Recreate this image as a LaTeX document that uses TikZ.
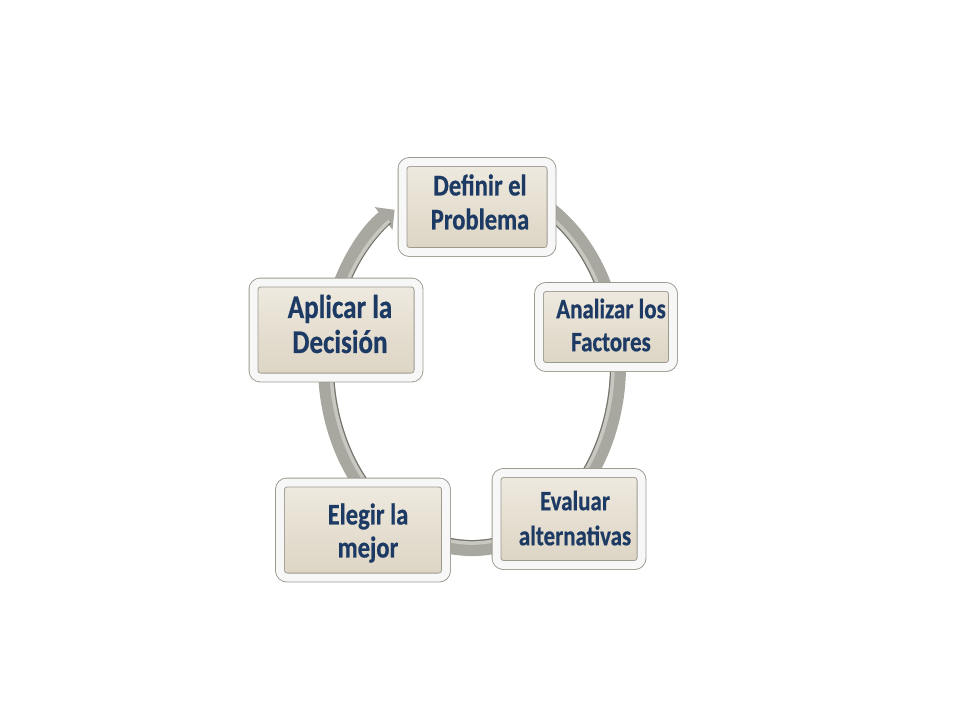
\documentclass[tikz,border=0pt]{standalone}
\usepackage{fontspec}
\setmainfont{Carlito}
\newfontfamily\boxfont[FakeStretch=0.82,FakeBold=0.6,BoldFont={Carlito Bold}]{Carlito}
\usetikzlibrary{arrows.meta,shadows}
\definecolor{txt}{HTML}{1C3A63}
\definecolor{ringc}{HTML}{A8A8A0}
\definecolor{ringl}{HTML}{C8C8C0}
\definecolor{ringd}{HTML}{74746C}
\definecolor{beigeT}{HTML}{EFEAE0}
\definecolor{beigeB}{HTML}{DCD4C3}
\definecolor{frameD}{HTML}{9C998F}
\tikzset{
  stepbox/.style={rounded corners=7pt, top color=beigeT, bottom color=beigeB,
    draw=frameD, line width=0.9pt, double=white!94!gray, double distance=8pt,
    drop shadow={shadow xshift=3pt, shadow yshift=-4pt, opacity=0.25, fill=gray},
    inner sep=0pt},
  steptext/.style={align=center, text=txt, inner sep=0pt},
  ringband/.style={line width=16pt, draw=ringc},
  ringlight/.style={line width=3.5pt, draw=ringl},
  ringedge/.style={line width=1pt, draw=ringd}
}
\begin{document}
\begin{tikzpicture}[x=1pt,y=-1pt]
\useasboundingbox (0,0) rectangle (960,720);
% ring
\coordinate (c) at (472,365);
\draw[ringband, -{Triangle[width=28pt,length=14pt]}]
  (c) ++(-70:146 and 183) arc[start angle=-70, end angle=238, x radius=146, y radius=183];
\draw[ringlight]
  (c) ++(-70:141 and 178) arc[start angle=-70, end angle=234, x radius=141, y radius=178];
\draw[ringedge]
  (c) ++(-70:138.5 and 175.5) arc[start angle=-70, end angle=234, x radius=138.5, y radius=175.5];
% boxes
\node[stepbox, minimum width=149pt, minimum height=90pt] (def) at (477,207) {};
\node[stepbox, minimum width=134pt, minimum height=80pt] (ana) at (606,327) {};
\node[stepbox, minimum width=145pt, minimum height=92pt] (eva) at (569,519) {};
\node[stepbox, minimum width=166pt, minimum height=95pt] (ele) at (363,530) {};
\node[stepbox, minimum width=165pt, minimum height=95pt] (apl) at (336,330) {};
% texts
\node[steptext, font=\boxfont\bfseries\fontsize{30}{34}\selectfont] (deft) at (480,202) {Definir el\\Problema};
\node[steptext, font=\boxfont\bfseries\fontsize{28}{33}\selectfont] (anat) at (611,325) {Analizar los\\Factores};
\node[steptext, font=\boxfont\bfseries\fontsize{28}{35}\selectfont] (evat) at (575,518) {Evaluar\\alternativas};
\node[steptext, font=\boxfont\bfseries\fontsize{30}{33}\selectfont] (elet) at (368,533) {Elegir la\\mejor};
\node[steptext, font=\boxfont\bfseries\fontsize{33}{35}\selectfont] (aplt) at (340,324) {Aplicar la\\Decisión};
\end{tikzpicture}
\end{document}
